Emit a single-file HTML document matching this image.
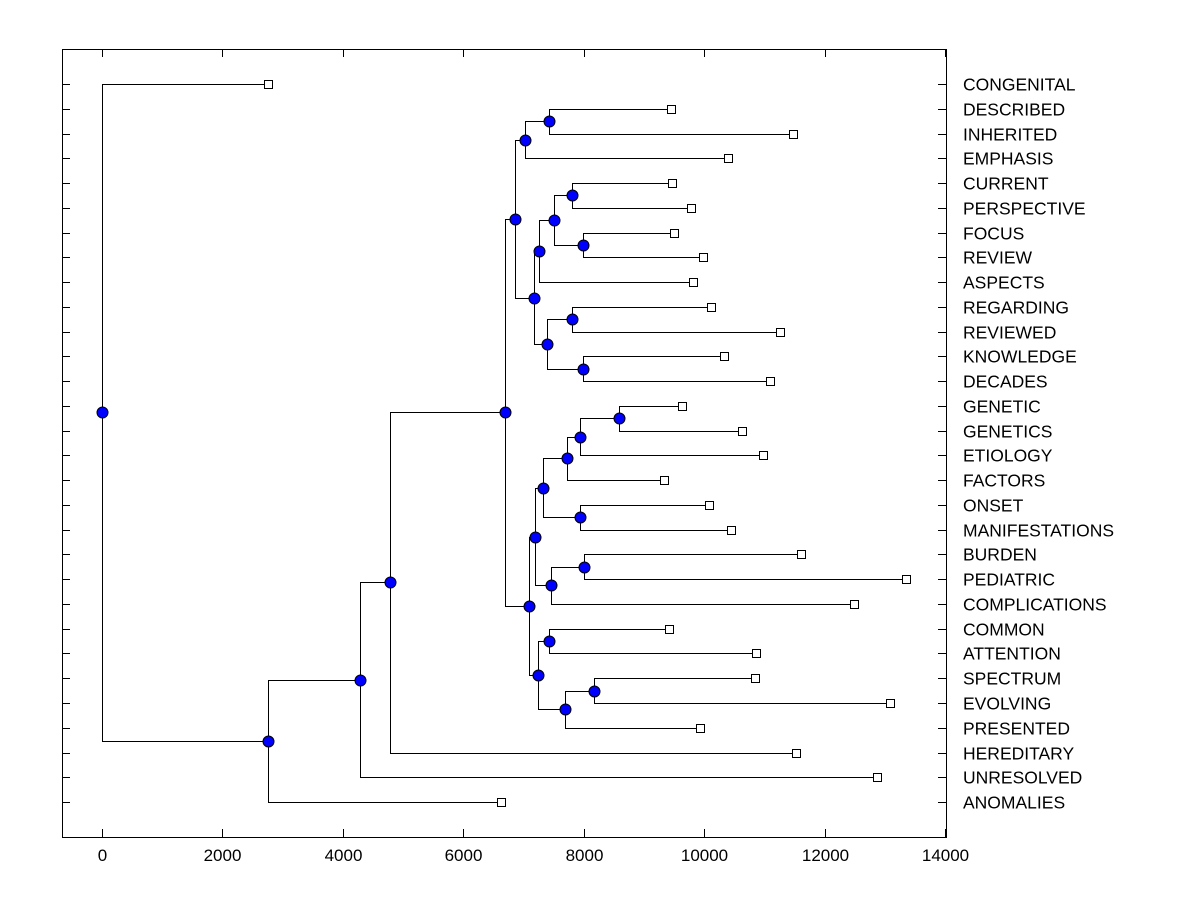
<!DOCTYPE html>
<html><head><meta charset="utf-8"><style>
html,body{margin:0;padding:0;background:#fff;}
svg{display:block;font-family:"Liberation Sans",Arial,sans-serif;}
</style></head><body>
<svg id="chart" width="1200" height="900" viewBox="0 0 1200 900" xmlns="http://www.w3.org/2000/svg">
<rect x="0" y="0" width="1200" height="900" fill="#fff"/>
<g id="axes"></g>
<g id="links"></g>
<g id="marks"></g>
</svg>
<script>
const leafLabels = ["CONGENITAL","DESCRIBED","INHERITED","EMPHASIS","CURRENT","PERSPECTIVE","FOCUS","REVIEW","ASPECTS","REGARDING","REVIEWED","KNOWLEDGE","DECADES","GENETIC","GENETICS","ETIOLOGY","FACTORS","ONSET","MANIFESTATIONS","BURDEN","PEDIATRIC","COMPLICATIONS","COMMON","ATTENTION","SPECTRUM","EVOLVING","PRESENTED","HEREDITARY","UNRESOLVED","ANOMALIES"];
const leafHeights = [2757,9452,11478,10399,9468,9784,9502,9983,9817,10116,11262,10332,11096,9635,10631,10980,9336,10083,10449,11611,13355,12492,9419,10864,10847,13090,9934,11528,12874,6628];
// internal nodes: index 30 + k; children are leaf idx (<30) or node idx (>=30)
const mergeLeft  = [1,30,4,6,32,34,9,11,36,35,31,13,41,42,17,43,19,46,45,22,24,50,49,48,40,54,55,56,0];
const mergeRight = [2,3,5,7,33,8,10,12,37,38,39,14,15,16,18,44,20,21,47,23,25,26,51,52,53,27,28,29,57];
const mergeHeights = [7425,7027,7807,7990,7508,7259,7807,7990,7392,7176,6860,8588,7940,7724,7940,7326,8007,7458,7193,7425,8173,7691,7243,7093,6694,4784,4286,2757,0];
const xTicks = [0,2000,4000,6000,8000,10000,12000,14000];

const NS="http://www.w3.org/2000/svg";
const L=62,R=946,T=49,B=837;
const xs=v=>102+v*0.06021;
const rowY=i=>84+i*24.76;
const axes=document.getElementById('axes'),links=document.getElementById('links'),marks=document.getElementById('marks');
function el(tag,attrs,parent){const e=document.createElementNS(NS,tag);for(const k in attrs)e.setAttribute(k,attrs[k]);parent.appendChild(e);return e;}
const frame=el('rect',{x:L+.5,y:T+.5,width:R-L,height:B-T,fill:'none',stroke:'#000','stroke-width':1},axes);


xTicks.forEach(v=>{const x=Math.round(xs(v))+.5;
 el('line',{x1:x,x2:x,y1:B,y2:B-8,stroke:'#000'},axes);
 el('line',{x1:x,x2:x,y1:T,y2:T+8,stroke:'#000'},axes);
 const t=el('text',{x:x,y:861,'font-size':17,'text-anchor':'middle'},axes);t.textContent=v;
 
 
});
const pos={};
leafLabels.forEach((lab,i)=>{const y=Math.round(rowY(i))+.5;pos[i]={x:xs(leafHeights[i]),y:rowY(i)};
 el('line',{x1:L,x2:L+8,y1:y,y2:y,stroke:'#000'},axes);
 el('line',{x1:R-8,x2:R,y1:y,y2:y,stroke:'#000'},axes);
 const t=el('text',{x:963,y:y+6,'font-size':17.5},axes);t.textContent=lab;
 
 
});
for(let k=0;k<mergeLeft.length;k++){const a=pos[mergeLeft[k]],b=pos[mergeRight[k]];pos[30+k]={x:xs(mergeHeights[k]),y:(a.y+b.y)/2};}
for(let k=0;k<mergeLeft.length;k++){const p=pos[30+k];
 [pos[mergeLeft[k]],pos[mergeRight[k]]].forEach(c=>{
  const px=Math.round(p.x)+.5,cy=Math.round(c.y)+.5,py=Math.round(p.y)+.5;
  const pl=el('polyline',{points:`${px},${py} ${px},${cy} ${Math.round(c.x)+.5},${cy}`,fill:'none',stroke:'#000','stroke-width':1},links);
  
  
 });
}
leafLabels.forEach((lab,i)=>{const p=pos[i];
 const r=el('rect',{x:Math.round(p.x)-3.5,y:Math.round(p.y)-3.5,width:8,height:8,fill:'#fff',stroke:'#000'},marks);
 
 
});
for(let k=0;k<mergeLeft.length;k++){const p=pos[30+k];
 const c=el('circle',{cx:Math.round(p.x)+.5,cy:Math.round(p.y)+.5,r:5.5,fill:'#0000ff',stroke:'#000','stroke-width':1},marks);
 
 
}
</script>
</body></html>
